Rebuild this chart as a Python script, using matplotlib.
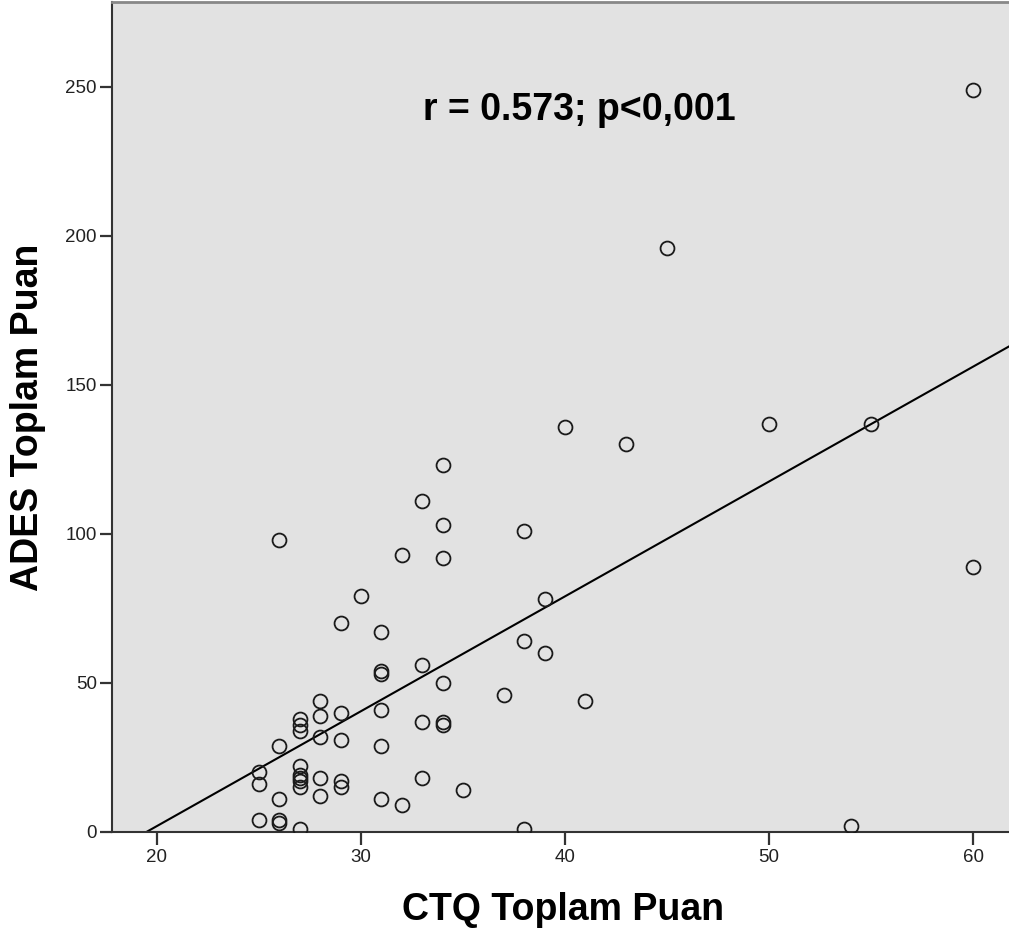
import numpy as np
import matplotlib
matplotlib.use("Agg")
import matplotlib.pyplot as plt

plt.rcParams['font.family'] = ['Liberation Sans', 'DejaVu Sans']

# CTQ toplam puan (x) ve ADES toplam puan (y)
ctq = [60, 45, 40, 43, 50, 55, 60, 34, 33, 34, 34, 32, 26, 38, 39, 30, 29, 31,
       38, 39, 33, 31, 31, 34, 37, 41, 28, 28, 29, 31, 27, 27, 27, 33, 34, 34,
       28, 29, 26, 31, 27, 27, 27, 27, 27, 28, 29, 29, 33, 25, 25, 26, 31, 32,
       35, 28, 25, 26, 26, 27, 38, 54]
ades = [249, 196, 136, 130, 137, 137, 89, 123, 111, 103, 92, 93, 98, 101, 78, 79, 70, 67,
        64, 60, 56, 54, 53, 50, 46, 44, 44, 39, 40, 41, 38, 36, 34, 37, 37, 36,
        32, 31, 29, 29, 22, 19, 18, 17, 15, 18, 17, 15, 18, 20, 16, 11, 11, 9,
        14, 12, 4, 4, 3, 1, 1, 2]

x = np.array(ctq, dtype=float)
y = np.array(ades, dtype=float)

fig = plt.figure(figsize=(10.09, 9.33), dpi=100)
ax = fig.add_axes([0.111, 0.1083, 0.889, 0.8897])
ax.set_facecolor('#e2e2e2')

ax.plot(x, y, 'o', mfc='none', mec='#1a1a1a', ms=10, mew=1.3, zorder=3)

# regresyon doğrusu
egim, kesisim = np.polyfit(x, y, 1)
xs = np.array([10, 70])
ax.plot(xs, egim * xs + kesisim, color='black', lw=1.5, zorder=2)

ax.set_xlim(17.8, 61.76)
ax.set_ylim(0, 278.5)
ax.set_xticks([20, 30, 40, 50, 60])
ax.set_yticks([0, 50, 100, 150, 200, 250])
ax.tick_params(direction='out', length=9, width=1.6, labelsize=13.5,
               colors='#333333', labelcolor='#222222')
ax.tick_params(axis='y', pad=2)
ax.tick_params(axis='x', pad=3)

for s in ['left', 'bottom']:
    ax.spines[s].set_linewidth(1.5)
    ax.spines[s].set_color('#333333')
ax.spines['top'].set_color('#888888')
ax.spines['top'].set_linewidth(2)
ax.spines['right'].set_visible(False)

ax.text(40.71, 238.9, 'r = 0.573; p<0,001', fontsize=27, fontweight='bold',
        ha='center', va='baseline')

ax.set_xlabel('CTQ Toplam Puan', fontsize=27, fontweight='bold')
ax.set_ylabel('ADES Toplam Puan', fontsize=27, fontweight='bold')
ax.xaxis.label.set_va('baseline')
ax.yaxis.label.set_va('baseline')
ax.xaxis.set_label_coords(0.503, -0.106)
ax.yaxis.set_label_coords(-0.0825, 0.4994)

fig.savefig('out.png', dpi=100)
